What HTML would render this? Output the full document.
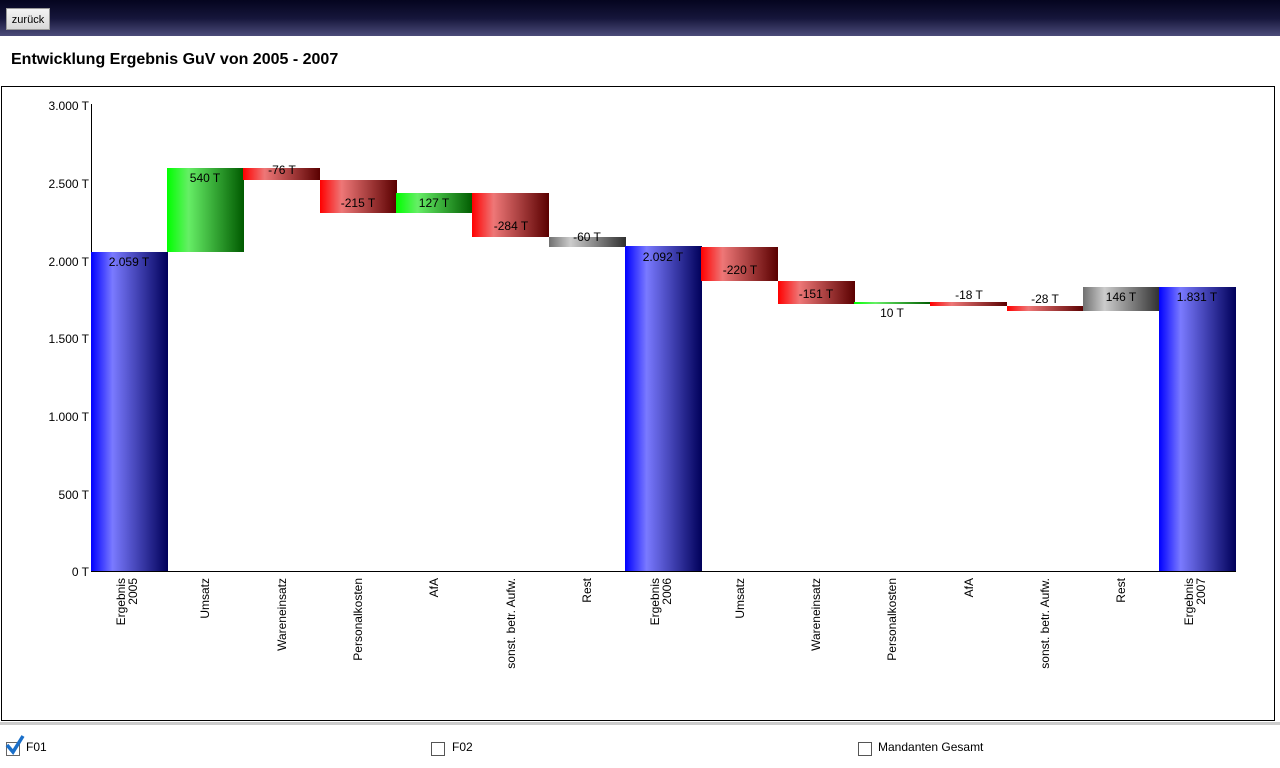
<!DOCTYPE html>
<html><head><meta charset="utf-8"><style>
body{margin:0;width:1280px;height:768px;overflow:hidden;background:#fff;font-family:"Liberation Sans",Arial,sans-serif;position:relative}
#hdr{position:absolute;left:0;top:0;width:1280px;height:36px;background:linear-gradient(#05051f,#15153a 50%,#4c4c7a)}
#btn{position:absolute;left:6px;top:8px;width:44px;height:22px;background:linear-gradient(#f4f4f4,#d8d8d8);border:1px solid #999;font-size:11px;line-height:22px;text-align:center;color:#000;box-sizing:border-box}
#title{position:absolute;left:11px;top:51px;font-size:16px;font-weight:bold;color:#000}
#box{position:absolute;left:1px;top:86px;width:1274px;height:635px;border:1px solid #000;box-sizing:border-box}
#bot{position:absolute;left:0;top:722px;width:1280px;height:46px;border-top:3px solid #ccc;box-sizing:border-box}
.cb{position:absolute;top:742px;width:14px;height:14px;border:1px solid #555;box-sizing:border-box;background:#fff}
.cl{position:absolute;top:740px;font-size:12px;color:#000}
svg{position:absolute;left:0;top:0}
</style></head><body>
<div id="hdr"></div><div id="btn">zurück</div>
<div id="title">Entwicklung Ergebnis GuV von 2005 - 2007</div>
<div id="box"></div>
<div id="bot"></div>
<svg width="1280" height="768" viewBox="0 0 1280 768">
<defs>
<linearGradient id="b" x1="0" x2="1"><stop offset="0" stop-color="#0000ff"/><stop offset="0.28" stop-color="#7a7aff"/><stop offset="1" stop-color="#00005a"/></linearGradient>
<linearGradient id="g" x1="0" x2="1"><stop offset="0" stop-color="#00ff00"/><stop offset="0.28" stop-color="#66ee66"/><stop offset="1" stop-color="#005a00"/></linearGradient>
<linearGradient id="r" x1="0" x2="1"><stop offset="0" stop-color="#ff0000"/><stop offset="0.28" stop-color="#ee7777"/><stop offset="1" stop-color="#5a0000"/></linearGradient>
<linearGradient id="k" x1="0" x2="1"><stop offset="0" stop-color="#707070"/><stop offset="0.28" stop-color="#cccccc"/><stop offset="1" stop-color="#303030"/></linearGradient>
</defs>
<g font-size="12" fill="#000" text-anchor="end">
<text x="89" y="110">3.000 T</text><text x="89" y="188">2.500 T</text><text x="89" y="266">2.000 T</text>
<text x="89" y="343">1.500 T</text><text x="89" y="421">1.000 T</text><text x="89" y="499">500 T</text><text x="89" y="576">0 T</text>
</g>
<line x1="91.5" y1="104" x2="91.5" y2="571" stroke="#000"/>
<line x1="91" y1="571.5" x2="1236" y2="571.5" stroke="#000"/>
<rect x="91" y="252" width="77" height="319" fill="url(#b)"/>
<rect x="167" y="168" width="77" height="84" fill="url(#g)"/>
<rect x="243" y="168" width="77" height="12" fill="url(#r)"/>
<rect x="320" y="180" width="77" height="33" fill="url(#r)"/>
<rect x="396" y="193" width="77" height="20" fill="url(#g)"/>
<rect x="472" y="193" width="77" height="44" fill="url(#r)"/>
<rect x="549" y="237" width="77" height="10" fill="url(#k)"/>
<rect x="625" y="246" width="77" height="325" fill="url(#b)"/>
<rect x="701" y="247" width="77" height="34" fill="url(#r)"/>
<rect x="778" y="281" width="77" height="23" fill="url(#r)"/>
<rect x="854" y="302" width="77" height="2" fill="url(#g)"/>
<rect x="930" y="302" width="77" height="4" fill="url(#r)"/>
<rect x="1007" y="306" width="77" height="5" fill="url(#r)"/>
<rect x="1083" y="287" width="77" height="24" fill="url(#k)"/>
<rect x="1159" y="287" width="77" height="284" fill="url(#b)"/>
<g font-size="12" fill="#000" text-anchor="middle">
<text x="129" y="266">2.059 T</text><text x="205" y="182">540 T</text><text x="282" y="174">-76 T</text>
<text x="358" y="207">-215 T</text><text x="434" y="207">127 T</text><text x="511" y="230">-284 T</text>
<text x="587" y="241">-60 T</text><text x="663" y="261">2.092 T</text><text x="740" y="274">-220 T</text>
<text x="816" y="298">-151 T</text><text x="892" y="317">10 T</text><text x="969" y="299">-18 T</text>
<text x="1045" y="303">-28 T</text><text x="1121" y="301">146 T</text><text x="1197" y="301">1.831 T</text>
</g>
<g font-size="12" fill="#000" text-anchor="end">
<text transform="translate(125,578) rotate(-90)">Ergebnis</text><text transform="translate(137,578) rotate(-90)">2005</text>
<text transform="translate(209,578) rotate(-90)">Umsatz</text>
<text transform="translate(286,578) rotate(-90)">Wareneinsatz</text>
<text transform="translate(362,578) rotate(-90)">Personalkosten</text>
<text transform="translate(438,578) rotate(-90)">AfA</text>
<text transform="translate(515,578) rotate(-90)">sonst. betr. Aufw.</text>
<text transform="translate(591,578) rotate(-90)">Rest</text>
<text transform="translate(659,578) rotate(-90)">Ergebnis</text><text transform="translate(671,578) rotate(-90)">2006</text>
<text transform="translate(744,578) rotate(-90)">Umsatz</text>
<text transform="translate(820,578) rotate(-90)">Wareneinsatz</text>
<text transform="translate(896,578) rotate(-90)">Personalkosten</text>
<text transform="translate(973,578) rotate(-90)">AfA</text>
<text transform="translate(1049,578) rotate(-90)">sonst. betr. Aufw.</text>
<text transform="translate(1125,578) rotate(-90)">Rest</text>
<text transform="translate(1193,578) rotate(-90)">Ergebnis</text><text transform="translate(1205,578) rotate(-90)">2007</text>
</g>
</svg>
<div class="cb" style="left:6px;top:742px;border-color:#666"></div>
<svg width="30" height="30" style="left:0;top:730px"><path d="M7 15 L13 22 L23 6" stroke="#1a6fc9" stroke-width="3.5" fill="none"/></svg>
<div class="cl" style="left:26px">F01</div>
<div class="cb" style="left:431px"></div><div class="cl" style="left:452px">F02</div>
<div class="cb" style="left:858px"></div><div class="cl" style="left:878px">Mandanten Gesamt</div>
</body></html>
